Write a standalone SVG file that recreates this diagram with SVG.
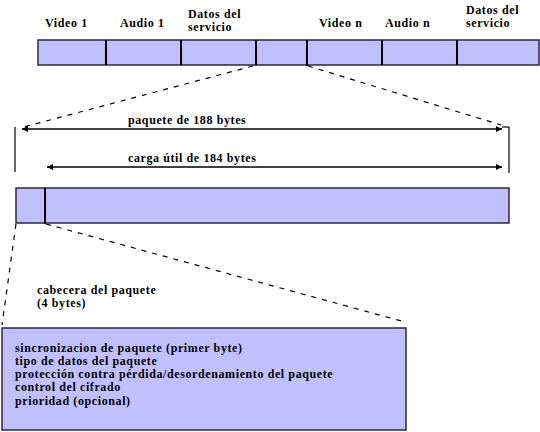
<svg xmlns="http://www.w3.org/2000/svg" width="540" height="432" viewBox="0 0 540 432">
<defs>
<style>
.box{fill:#C0C0FF;stroke:#2a2a3a;stroke-width:1.5}
.div{stroke:#000;stroke-width:2}
.t{font-family:'Liberation Serif','Times New Roman',serif;font-weight:bold;font-size:12px;letter-spacing:0.6px;fill:#000}
.dash{fill:none;stroke:#000;stroke-width:1.2;stroke-dasharray:5,6}
.arr{stroke:#000;stroke-width:1.5;fill:none}
.vl{stroke:#000;stroke-width:1.2}
</style>
<marker id="ah" viewBox="0 0 10 10" refX="10" refY="5" markerWidth="8" markerHeight="6" orient="auto-start-reverse" markerUnits="userSpaceOnUse">
<path d="M0,0 L10,5 L0,10 z" fill="#000"/>
</marker>
</defs>
<rect width="540" height="432" fill="#fff"/>

<g id="stream">
<rect class="box" x="38" y="40" width="501" height="25"/>
<line class="div" x1="106" y1="40" x2="106" y2="65"/>
<line class="div" x1="181" y1="40" x2="181" y2="65"/>
<line class="div" x1="256" y1="40" x2="256" y2="65"/>
<line class="div" x1="307" y1="40" x2="307" y2="66"/>
<line class="div" x1="382" y1="40" x2="382" y2="65"/>
<line class="div" x1="457" y1="40" x2="457" y2="65"/>
<text class="t" x="45" y="27">Video 1</text>
<text class="t" x="120" y="27">Audio 1</text>
<text class="t" x="188" y="18">Datos del</text>
<text class="t" x="188" y="31">servicio</text>
<text class="t" x="319" y="27">Video n</text>
<text class="t" x="385" y="27">Audio n</text>
<text class="t" x="466" y="14">Datos del</text>
<text class="t" x="466" y="27">servicio</text>
</g>

<g id="packet">
<rect class="box" x="16" y="188" width="493" height="35"/>
<line class="div" x1="45" y1="188" x2="45" y2="224"/>
</g>

<g id="header-box">
<rect class="box" x="2" y="328" width="404" height="102"/>
<text class="t" x="15" y="352">sincronizacion de paquete (primer byte)</text>
<text class="t" x="15" y="365">tipo de datos del paquete</text>
<text class="t" x="15" y="378">protección contra pérdida/desordenamiento del paquete</text>
<text class="t" x="15" y="391">control del cifrado</text>
<text class="t" x="15" y="405">prioridad (opcional)</text>
</g>

<g id="labels">
<text class="t" x="128" y="124">paquete de 188 bytes</text>
<text class="t" x="128" y="162">carga útil de 184 bytes</text>
<text class="t" x="37" y="294">cabecera del paquete</text>
<text class="t" x="37" y="307">(4 bytes)</text>
</g>

<g id="connectors">
<path class="dash" d="M253,66 L20,128"/>
<path class="dash" d="M308,66 L501,125"/>
<path class="dash" d="M16,224 L2,325"/>
<path class="dash" d="M46,224 L405,322"/>
<line class="vl" x1="15" y1="127" x2="15" y2="172"/>
<line class="vl" x1="509" y1="127" x2="509" y2="173"/>
<line class="vl" x1="502" y1="127" x2="509" y2="127"/>
<line class="arr" x1="22" y1="129" x2="502" y2="129" marker-start="url(#ah)" marker-end="url(#ah)"/>
<line class="arr" x1="47" y1="167" x2="502" y2="167" marker-start="url(#ah)" marker-end="url(#ah)"/>
</g>
</svg>
